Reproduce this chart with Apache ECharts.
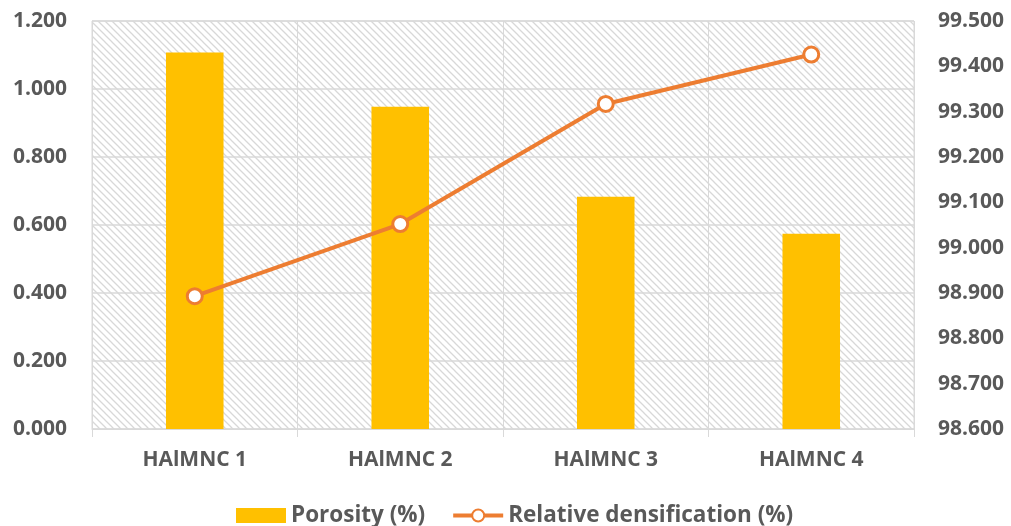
<!DOCTYPE html>
<html>
<head>
<meta charset="utf-8">
<title>Porosity and relative densification</title>
<script src="https://cdn.jsdelivr.net/npm/echarts@6/dist/echarts.min.js"></script>
<style>
  html, body { margin: 0; padding: 0; background: #ffffff; }
  #chart { width: 1011px; height: 526px; }
</style>
</head>
<body>
<div id="chart"></div>
<script>
// Samples
const categories = ['HAlMNC 1', 'HAlMNC 2', 'HAlMNC 3', 'HAlMNC 4'];
// Porosity (%)
const porosity = [1.107, 0.948, 0.683, 0.574];
// Relative densification (%)
const densification = [98.893, 99.052, 99.317, 99.426];

// Left / right axis ranges
const leftAxis = { min: 0, max: 1.2, interval: 0.2 };
const rightAxis = { min: 98.6, max: 99.5, interval: 0.1 };

// Diagonal hatch tile for the plot background
function hatchTile() {
  const s = 7;
  const c = document.createElement('canvas');
  c.width = s; c.height = s;
  const g = c.getContext('2d');
  g.fillStyle = '#ffffff';
  g.fillRect(0, 0, s, s);
  g.strokeStyle = '#d8d8d8';
  g.lineWidth = 1.3;
  g.beginPath();
  g.moveTo(-1, -1); g.lineTo(s + 1, s + 1);
  g.moveTo(-1, s - 1); g.lineTo(1, s + 1);
  g.moveTo(s - 1, -1); g.lineTo(s + 1, 1);
  g.stroke();
  return c;
}

const textColor = '#595959';
const font = 'Open Sans';
const gridColor = '#d9d9d9';
const axisFont = 21;

const chart = echarts.init(document.getElementById('chart'), null, { renderer: 'canvas' });
chart.setOption({
  animation: false,
  backgroundColor: '#ffffff',
  textStyle: { fontFamily: font },
  grid: {
    left: 92, right: 97, top: 21, bottom: 97,
    show: true,
    backgroundColor: { image: hatchTile(), repeat: 'repeat' },
    borderColor: gridColor,
    borderWidth: 1
  },
  legend: {
    top: 499,
    left: 231,
    itemGap: 26,
    itemWidth: 50,
    itemHeight: 15,
    textStyle: { color: textColor, fontSize: 22.5, fontWeight: 'bold', fontFamily: font },
    data: [
      { name: 'Porosity (%)', icon: 'rect' },
      { name: 'Relative densification (%)', lineStyle: { width: 4 } }
    ]
  },
  xAxis: {
    type: 'category',
    data: categories,
    boundaryGap: true,
    axisLine: { show: true, lineStyle: { color: gridColor, width: 1 } },
    axisTick: { show: true, length: 8, lineStyle: { color: gridColor } },
    splitLine: { show: true, lineStyle: { color: gridColor, width: 1 } },
    axisLabel: { color: textColor, fontSize: axisFont, fontWeight: 'bold', fontFamily: font, margin: 21 }
  },
  yAxis: [
    {
      type: 'value',
      min: leftAxis.min, max: leftAxis.max, interval: leftAxis.interval,
      axisLine: { show: false },
      axisTick: { show: false },
      splitLine: { show: true, lineStyle: { color: gridColor, width: 1.5 } },
      axisLabel: {
        color: textColor, fontSize: axisFont, fontWeight: 'bold', fontFamily: font, margin: 25,
        formatter: v => v.toFixed(3)
      }
    },
    {
      type: 'value',
      min: rightAxis.min, max: rightAxis.max, interval: rightAxis.interval,
      axisLine: { show: false },
      axisTick: { show: false },
      splitLine: { show: false },
      axisLabel: {
        color: textColor, fontSize: axisFont, fontWeight: 'bold', fontFamily: font, margin: 24,
        formatter: v => v.toFixed(3)
      }
    }
  ],
  series: [
    {
      name: 'Porosity (%)',
      type: 'bar',
      yAxisIndex: 0,
      data: porosity,
      barWidth: '28%',
      itemStyle: { color: '#FFC000' }
    },
    {
      name: 'Relative densification (%)',
      type: 'line',
      yAxisIndex: 1,
      data: densification,
      symbol: 'circle',
      symbolSize: 15,
      lineStyle: { color: '#ED7D31', width: 4 },
      itemStyle: { color: '#ffffff', borderColor: '#ED7D31', borderWidth: 3 }
    }
  ]
});
</script>
</body>
</html>
